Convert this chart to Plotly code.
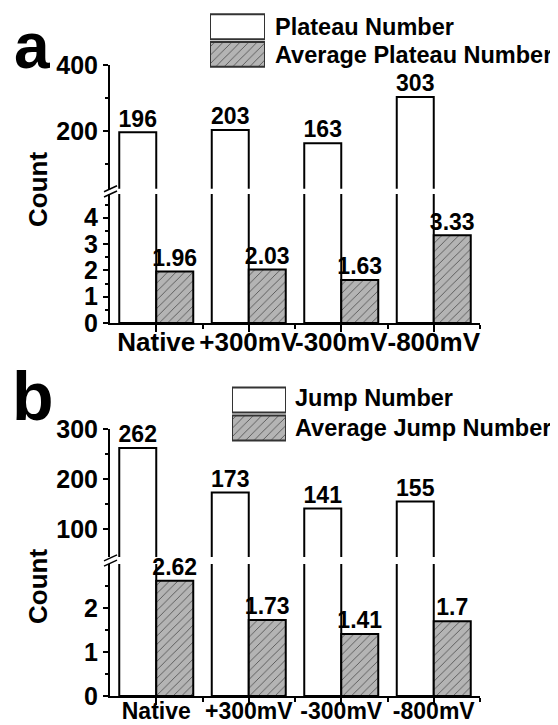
import plotly.graph_objects as go

# ---------------- data ----------------
categories = ["Native", "+300mV", "-300mV", "-800mV"]
xpos = [0, 1, 2, 3]
plateau_number = [196, 203, 163, 303]
avg_plateau_number = [1.96, 2.03, 1.63, 3.33]
jump_number = [262, 173, 141, 155]
avg_jump_number = [2.62, 1.73, 1.41, 1.7]
legend_swatch = [1]

# ---------------- style helpers ----------------
# the page body has an 8px default margin, so the figure is drawn 8px smaller
OFF = 8
W, H = 558 - OFF, 725 - OFF
def fx(p):
    return (p - OFF) / W
def fy(p):
    return 1 - (p - OFF) / H

FONT = "Liberation Sans"
GRAY = "#b4b4b4"
HATCH = "#555555"
PATTERN = dict(shape="/", fillmode="replace", bgcolor=GRAY, fgcolor=HATCH, size=6, solidity=0.15)
BAR_W = 0.4

def fmt(v):
    return ("%g" % v)

fig = go.Figure()

def add_panel(white_vals, gray_vals, xa, ya_up, ya_low):
    for ya in (ya_up, ya_low):
        fig.add_trace(go.Bar(x=xpos, y=white_vals, xaxis=xa, yaxis=ya, offset=-BAR_W, width=BAR_W,
                             marker=dict(color="white", line=dict(color="black", width=2)),
                             showlegend=False, hoverinfo="skip"))
    fig.add_trace(go.Bar(x=xpos, y=gray_vals, xaxis=xa, yaxis=ya_low, offset=0, width=BAR_W,
                         marker=dict(color=GRAY, pattern=PATTERN, line=dict(color="black", width=2)),
                         showlegend=False, hoverinfo="skip"))
    fig.add_trace(go.Scatter(x=[i - BAR_W / 2 for i in xpos], y=white_vals, xaxis=xa, yaxis=ya_up,
                             mode="text", text=[fmt(v) for v in white_vals], textposition="top center",
                             textfont=dict(family=FONT, size=23, color="black", weight="bold"),
                             cliponaxis=False, showlegend=False, hoverinfo="skip"))
    fig.add_trace(go.Scatter(x=[i + BAR_W / 2 for i in xpos], y=gray_vals, xaxis=xa, yaxis=ya_low,
                             mode="text", text=[fmt(v) for v in gray_vals], textposition="top center",
                             textfont=dict(family=FONT, size=23, color="black", weight="bold"),
                             cliponaxis=False, showlegend=False, hoverinfo="skip"))

add_panel(plateau_number, avg_plateau_number, "x", "y", "y2")
add_panel(jump_number, avg_jump_number, "x2", "y3", "y4")

def add_legend_swatch(xa, ya):
    fig.add_trace(go.Bar(x=legend_swatch, y=[1], base=0, orientation="h", width=0.9, xaxis=xa, yaxis=ya,
                         marker=dict(color="white", line=dict(color="#333333", width=2)),
                         cliponaxis=False, showlegend=False, hoverinfo="skip"))
    fig.add_trace(go.Bar(x=legend_swatch, y=[0], base=0, orientation="h", width=0.9, xaxis=xa, yaxis=ya,
                         marker=dict(color=GRAY, pattern=PATTERN, line=dict(color="#333333", width=2)),
                         cliponaxis=False, showlegend=False, hoverinfo="skip"))

add_legend_swatch("x3", "y5")
add_legend_swatch("x4", "y6")

axis_common = dict(showline=True, linewidth=2, linecolor="black", ticks="outside", tickwidth=2,
                   tickcolor="black", showgrid=False, zeroline=False, fixedrange=True)

def xaxis_def(anchor, size, standoff):
    return dict(axis_common, domain=[fx(110), fx(480)], range=[-0.5, 3.5], anchor=anchor,
                tickmode="array", tickvals=xpos, ticktext=categories, ticklen=7, tickangle=0,
                ticklabelstandoff=standoff,
                tickfont=dict(family=FONT, size=size, color="black", weight="bold"),
                minor=dict(tickmode="array", tickvals=[0.5, 1.5, 2.5, 3.5], ticklen=4, tickwidth=2,
                           tickcolor="black", ticks="outside", showgrid=False))

def yaxis_def(anchor, dom, rng, major, minor):
    return dict(axis_common, domain=dom, range=rng, anchor=anchor, tickmode="array", tickvals=major,
                ticklen=5, tickfont=dict(family=FONT, size=25, color="black", weight="bold"),
                minor=dict(tickmode="array", tickvals=minor, ticklen=3, tickwidth=2, tickcolor="black",
                           ticks="outside", showgrid=False))

hidden = dict(visible=False, fixedrange=True, showgrid=False, zeroline=False)

fig.update_layout(
    width=W, height=H, template="none", paper_bgcolor="white", plot_bgcolor="rgba(0,0,0,0)",
    margin=dict(l=0, r=0, t=0, b=0), barmode="overlay", showlegend=False,
    xaxis=xaxis_def("y2", 26, -12),
    yaxis=yaxis_def("x", [fy(188.75), fy(65)], [25, 400], [200, 400], [100, 300]),
    yaxis2=yaxis_def("x", [fy(323), fy(194)], [0, 4.9], [0, 1, 2, 3, 4], [0.5, 1.5, 2.5, 3.5, 4.5]),
    xaxis2=xaxis_def("y4", 23, -14),
    yaxis3=yaxis_def("x2", [fy(557), fy(429)], [44, 300], [100, 200, 300], [150, 250]),
    yaxis4=yaxis_def("x2", [fy(696), fy(564)], [0, 3.0], [0, 1, 2], [0.5, 1.5, 2.5]),
    xaxis3=dict(hidden, domain=[fx(210), fx(265)], range=[0, 1], anchor="y5"),
    yaxis5=dict(hidden, domain=[fy(68), fy(13)], range=[-0.5, 1.5], anchor="x3"),
    xaxis4=dict(hidden, domain=[fx(232), fx(286)], range=[0, 1], anchor="y6"),
    yaxis6=dict(hidden, domain=[fy(442), fy(386)], range=[-0.5, 1.5], anchor="x4"),
)

for yc in (191.4, 560.5):
    for d in (-2.6, 2.6):
        fig.add_shape(type="line", xref="paper", yref="paper",
                      x0=fx(104), y0=fy(yc + d + 3), x1=fx(117), y1=fy(yc + d - 3),
                      line=dict(color="black", width=1.5))

def ann(text, x, y, size, xanchor="center", angle=0):
    fig.add_annotation(text=text, x=fx(x), y=fy(y), xref="paper", yref="paper", showarrow=False,
                       xanchor=xanchor, yanchor="middle", textangle=angle,
                       font=dict(family=FONT, size=size, color="black", weight="bold"))

ann("a", 32, 45.5, 64)
ann("b", 33, 396, 68)
ann("Count", 38, 190, 26, angle=-90)
ann("Count", 38, 587, 26, angle=-90)
ann("Plateau Number", 273, 27, 23.5, xanchor="left")
ann("Average Plateau Number", 273, 55, 23.5, xanchor="left")
ann("Jump Number", 293, 398, 23.5, xanchor="left")
ann("Average Jump Number", 293, 428, 23.5, xanchor="left")

fig.write_html("out.html")
